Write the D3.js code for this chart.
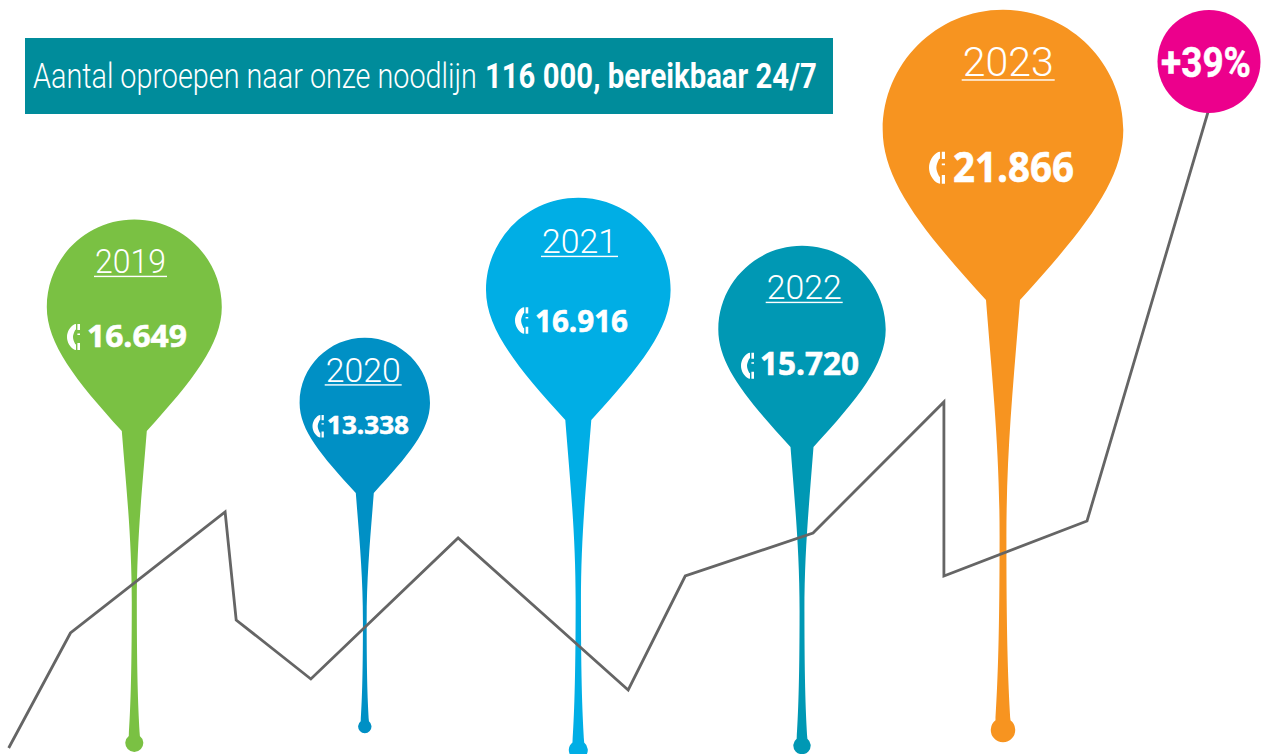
<!DOCTYPE html>
<html lang="nl">
<head>
<meta charset="utf-8">
<title>Aantal oproepen 116 000</title>
<script src="https://cdn.jsdelivr.net/npm/d3@7/dist/d3.min.js"></script>
<style>
  html, body { margin: 0; background: #fff; overflow: hidden; }
  svg { display: block; }
</style>
</head>
<body>
<div id="chart"></div>
<script>
"use strict";

// data
const years = [2019, 2020, 2021, 2022, 2023];
const calls = [16649, 13338, 16916, 15720, 21866];
const callLabels = ["16.649", "13.338", "16.916", "15.720", "21.866"];
const growthLabel = "+39%";
const titleLight = "Aantal oproepen naar onze noodlijn";
const titleBold = "116 000, bereikbaar 24/7";
// zigzag behind the pins: position along the years, height above the base
const trendYears = [2018.455, 2018.723, 2019.394, 2019.442, 2019.766, 2020.437, 2021.223, 2021.478, 2022.055, 2022.706, 2022.706, 2023.418, 2024.02];
const trendHeights = [6, 121, 242, 134, 75, 216, 64, 178, 221, 352, 178, 233, 642];

const WIDTH = 1282;
const HEIGHT = 754;
const PIN_COLORS = ["#7ac143", "#0090c5", "#00aee5", "#0098b4", "#f79420"];
const PIN_X = [134.3, 364.8, 578.3, 802, 1003];
const HEAD_Y = [307, 403, 290, 329.5, 130];
const NECK_Y = [431, 493, 420, 447, 300];
const NECK_W = [12.5, 9, 13, 11.5, 17];
const DROP_Y = [743, 726.5, 750, 745.5, 730];
const DROP_R = [9, 6.7, 9.5, 8.7, 12.2];
const YEAR_X = [94, 324.7, 541, 765.7, 961.7];
const YEAR_BASE = [273, 381.5, 253, 299, 76];
const YEAR_SIZE = [34, 34, 34, 34, 41];
const YEAR_W = [73, 77, 77, 77, 93];
const VALUE_BASE = [347, 434, 332, 375, 182];
const VALUE_SIZE = [31, 25, 31, 32, 42];
const VALUE_X = [87, 327, 535, 760, 953];
const VALUE_W = [100, 82, 93, 99, 121];
const ICON_X = [67, 312.5, 515, 741, 929];
const ICON_Y = [324, 415, 307.3, 352.7, 151.7];
const ICON_SCALE = [1, 0.87, 1.02, 1, 1.23];

const x = d3.scaleLinear().domain(years).range(PIN_X);
const y = d3.scaleLinear().domain([0, HEIGHT]).range([HEIGHT, 0]);
const radius = d3.scaleLinear().domain(d3.sort(calls)).range([65.2, 83.7, 87.5, 92.3, 120.3]);

const pick = function pick(list) {
  return d3.scaleOrdinal().domain(years).range(list);
};
const color = pick(PIN_COLORS);
const headY = pick(HEAD_Y);
const neckY = pick(NECK_Y);
const neckW = pick(NECK_W);
const dropY = pick(DROP_Y);
const dropR = pick(DROP_R);
const yearX = pick(YEAR_X);
const yearBase = pick(YEAR_BASE);
const yearSize = pick(YEAR_SIZE);
const yearW = pick(YEAR_W);
const valueBase = pick(VALUE_BASE);
const valueSize = pick(VALUE_SIZE);
const valueX = pick(VALUE_X);
const valueW = pick(VALUE_W);
const iconX = pick(ICON_X);
const iconY = pick(ICON_Y);
const iconScale = pick(ICON_SCALE);

const pins = years.map(function mapPin(year, i) {
  return { year: year, calls: calls[i], label: callLabels[i] };
});

function pinPath(pin) {
  const cx = x(pin.year);
  const r = radius(pin.calls);
  const hy = headY(pin.year);
  const ny = neckY(pin.year);
  const nw = neckW(pin.year);
  const dy = dropY(pin.year);
  const dr = dropR(pin.year);
  const len = dy - ny;
  const thin = dr * 0.28;
  const k = r * 0.5523;
  const right = function right(dx) { return cx + dx; };
  const left = function left(dx) { return cx - dx; };
  const p = d3.path();
  p.moveTo(cx, hy - r);
  p.bezierCurveTo(right(k), hy - r, right(r), hy - k, right(r), hy);
  p.bezierCurveTo(right(r), hy + r * 0.42, right(r * 0.67), ny - r * 0.58, right(nw), ny);
  p.bezierCurveTo(right(nw * 0.6), ny + len * 0.2, right(thin), ny + len * 0.35, right(thin), ny + len * 0.55);
  p.bezierCurveTo(right(thin), ny + len * 0.8, right(dr * 0.45), ny + len * 0.9, right(dr * 0.62), dy - dr * 0.78);
  p.arc(cx, dy, dr, -Math.PI * 0.29, Math.PI + Math.PI * 0.29, false);
  p.bezierCurveTo(left(dr * 0.45), ny + len * 0.9, left(thin), ny + len * 0.8, left(thin), ny + len * 0.55);
  p.bezierCurveTo(left(thin), ny + len * 0.35, left(nw * 0.6), ny + len * 0.2, left(nw), ny);
  p.bezierCurveTo(left(r * 0.67), ny - r * 0.58, left(r), hy + r * 0.42, left(r), hy);
  p.bezierCurveTo(left(r), hy - k, left(k), hy - r, cx, hy - r);
  p.closePath();
  return p.toString();
}

// squeeze a text sideways so that it fills the given width from its left edge
function fitText(node, left, base, width) {
  const natural = node.getComputedTextLength();
  node.setAttribute("transform", "translate(" + left + "," + base + ") scale(" + (width / natural) + ",1)");
}

// handset glyph, drawn in a 13 x 26 box
const PHONE_ICON = "M7.5 0.3C3 2.5 0 8 0 13C0 18 3 23.5 7.5 25.7L9 26V20.5L8.2 20C6.8 17 6 15 6 13C6 11 6.8 9 8.2 6L9 5.5V0Z"
  + "M10.4 0H13V6H10.4ZM10.4 9.6H13V11H10.4ZM10.4 19H13V26H10.4Z";

const svg = d3.select("#chart").append("svg").attr("width", WIDTH).attr("height", HEIGHT).attr("viewBox", "0 0 " + WIDTH + " " + HEIGHT);

// title banner
svg.append("rect").attr("x", 25).attr("y", 38).attr("width", 808).attr("height", 76).attr("fill", "#008c9b");
const light = svg.append("text").attr("font-family", "Roboto").attr("font-weight", 300).attr("font-size", 36).attr("fill", "#fff").text(titleLight);
fitText(light.node(), 33, 88, 444);
const bold = svg.append("text").attr("font-family", "Roboto").attr("font-weight", 700).attr("font-size", 36).attr("fill", "#fff").text(titleBold);
fitText(bold.node(), 485, 88, 332);

// pins
const pinGroups = svg.append("g").selectAll("g.pin").data(pins).join("g").attr("class", "pin");
pinGroups.append("path").attr("d", pinPath).attr("fill", function pinFill(d) { return color(d.year); });
pinGroups.append("text")
  .attr("font-family", "Roboto").attr("font-weight", 300)
  .attr("font-size", function fs(d) { return yearSize(d.year); })
  .attr("fill", "#fff")
  .text(function yearText(d) { return d.year; })
  .each(function fitYear(d) { fitText(this, yearX(d.year) + 1, yearBase(d.year), yearW(d.year) - 2); });
pinGroups.append("rect")
  .attr("x", function ruleX(d) { return yearX(d.year); })
  .attr("y", function ruleY(d) { return yearBase(d.year) + yearSize(d.year) * 0.08; })
  .attr("width", function ruleW(d) { return yearW(d.year); })
  .attr("height", 1.4)
  .attr("fill", "#fff");
pinGroups.append("text")
  .attr("font-family", "'Open Sans'").attr("font-weight", 700)
  .attr("font-size", function fs(d) { return valueSize(d.year); })
  .attr("fill", "#fff").attr("stroke", "#fff").attr("stroke-width", 0.6)
  .text(function valText(d) { return d.label; })
  .each(function fitValue(d) { fitText(this, valueX(d.year), valueBase(d.year), valueW(d.year)); });
pinGroups.append("path")
  .attr("d", PHONE_ICON)
  .attr("fill", "#fff")
  .attr("transform", function iconAt(d) {
    return "translate(" + iconX(d.year) + "," + iconY(d.year) + ") scale(" + iconScale(d.year) + ")";
  });

// zigzag line
const line = d3.line().x(function lineX(d) { return x(d[0]); }).y(function lineY(d) { return y(d[1]); });
svg.append("path")
  .attr("d", line(d3.zip(trendYears, trendHeights)))
  .attr("fill", "none").attr("stroke", "#656565").attr("stroke-width", 2.8).attr("stroke-linejoin", "miter");

// growth badge
svg.append("circle").attr("cx", 1209).attr("cy", 61.5).attr("r", 51.5).attr("fill", "#ec008c");
const badge = svg.append("text").attr("font-family", "'Liberation Sans Narrow', Roboto").attr("font-weight", 700).attr("font-size", 42).attr("fill", "#fff").attr("stroke", "#fff").attr("stroke-width", 0.5).text(growthLabel);
fitText(badge.node(), 1161, 76.5, 90);
</script>
</body>
</html>
